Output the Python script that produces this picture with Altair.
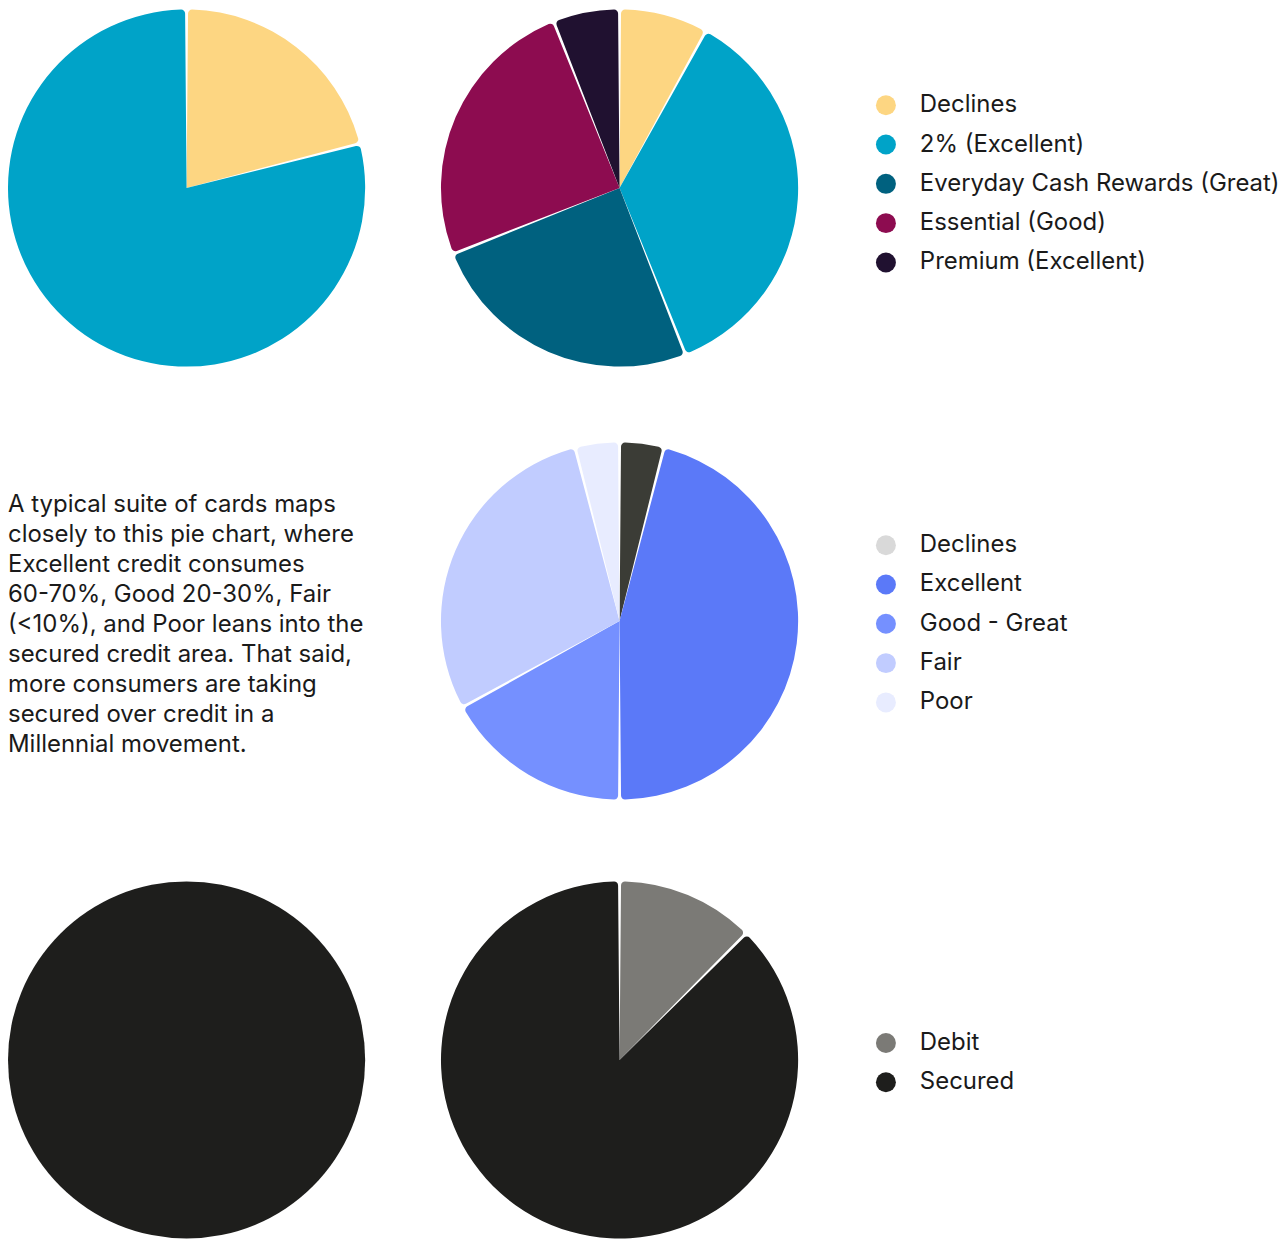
import altair as alt
import pandas as pd

# ---------------- data ----------------
# Row 1 : card suite
CARD_CATS = ["Declines", "2% (Excellent)", "Everyday Cash Rewards (Great)",
             "Essential (Good)", "Premium (Excellent)"]
CARD_COLORS = ["#fdd682", "#00a3c8", "#00617f", "#8d0c50", "#201130"]
PIE1_CATS = ["Declines", "2% (Excellent)"]
PIE1_VALUES = [21, 79]
PIE2_VALUES = [8, 36, 25, 25, 6]

# Row 2 : credit tiers
CREDIT_CATS = ["Declines", "Excellent", "Good - Great", "Fair", "Poor"]
CREDIT_COLORS = ["#d9d9d9", "#5b79f8", "#7590ff", "#c1ccff", "#e8ecff"]
DECLINES_SLICE_COLOR = "#3b3c36"
PIE3_VALUES = [4, 46, 17, 29, 4]

# Row 3 : debit / secured
FUND_CATS = ["Debit", "Secured"]
FUND_COLORS = ["#7b7a76", "#1e1e1c"]
PIE5_CATS = ["Secured"]
PIE5_VALUES = [100]
PIE6_VALUES = [12.5, 87.5]

TEXT_LINES = [
    "A typical suite of cards maps",
    "closely to this pie chart, where",
    "Excellent credit consumes",
    "60-70%, Good 20-30%, Fair",
    "(<10%), and Poor leans into the",
    "secured credit area. That said,",
    "more consumers are taking",
    "secured over credit in a",
    "Millennial movement.",
]

# ---------------- styling ----------------
PIE = 358
FONT = "Inter"
TEXT_COLOR = "#1a1a1a"
LEGEND_X = 434
GAP_PX = 3.0


def make_legend(y):
    return alt.Legend(
        title=None, orient="none", legendX=LEGEND_X, legendY=y,
        symbolType="circle", symbolSize=400, symbolStrokeWidth=0,
        labelFont=FONT, labelFontSize=24, labelColor=TEXT_COLOR,
        labelOffset=22, labelLimit=800, rowPadding=15.4, padding=0,
    )


def pie(cats, vals, domain, colors, legend, override=None):
    df = pd.DataFrame({"category": cats, "value": vals,
                       "order": list(range(len(cats)))})
    color = alt.Color("category:N", sort=domain,
                      scale=alt.Scale(domain=domain, range=colors),
                      legend=legend)
    if override is not None:
        color = alt.when(alt.datum.category == override[0]).then(
            alt.value(override[1])).otherwise(color)
    return (
        alt.Chart(df)
        .mark_arc(padAngle=GAP_PX / (PIE / 2), cornerRadius=4)
        .encode(theta=alt.Theta("value:Q", stack=True),
                color=color,
                order=alt.Order("order:Q"))
        .properties(width=PIE, height=PIE)
    )


pie1 = pie(PIE1_CATS, PIE1_VALUES, CARD_CATS, CARD_COLORS, None)
pie2 = pie(CARD_CATS, PIE2_VALUES, CARD_CATS, CARD_COLORS, make_legend(84))

text_df = pd.DataFrame({"text": ["\n".join(TEXT_LINES)]})
text_chart = (
    alt.Chart(text_df)
    .mark_text(align="left", baseline="middle", font=FONT, fontSize=24,
               lineHeight=30, lineBreak="\n", color=TEXT_COLOR)
    .encode(text="text:N", x=alt.value(0), y=alt.value(63))
    .properties(width=PIE, height=PIE)
)
pie3 = pie(CREDIT_CATS, PIE3_VALUES, CREDIT_CATS, CREDIT_COLORS,
           make_legend(91), override=("Declines", DECLINES_SLICE_COLOR))

pie5 = pie(PIE5_CATS, PIE5_VALUES, FUND_CATS, FUND_COLORS, None)
pie6 = pie(FUND_CATS, PIE6_VALUES, FUND_CATS, FUND_COLORS, make_legend(150))

row1 = alt.hconcat(pie1, pie2, spacing=76).resolve_scale(color="independent")
row2 = alt.hconcat(text_chart, pie3, spacing=76).resolve_scale(color="independent")
row3 = alt.hconcat(pie5, pie6, spacing=76).resolve_scale(color="independent")

top = alt.vconcat(row1, row2, spacing=76).resolve_scale(color="independent")
chart = (
    alt.vconcat(top, row3, spacing=82)
    .resolve_scale(color="independent")
    .properties(padding=0)
    .configure_view(strokeWidth=0)
)

chart.save("out.html", embed_options={"renderer": "svg", "actions": False})
